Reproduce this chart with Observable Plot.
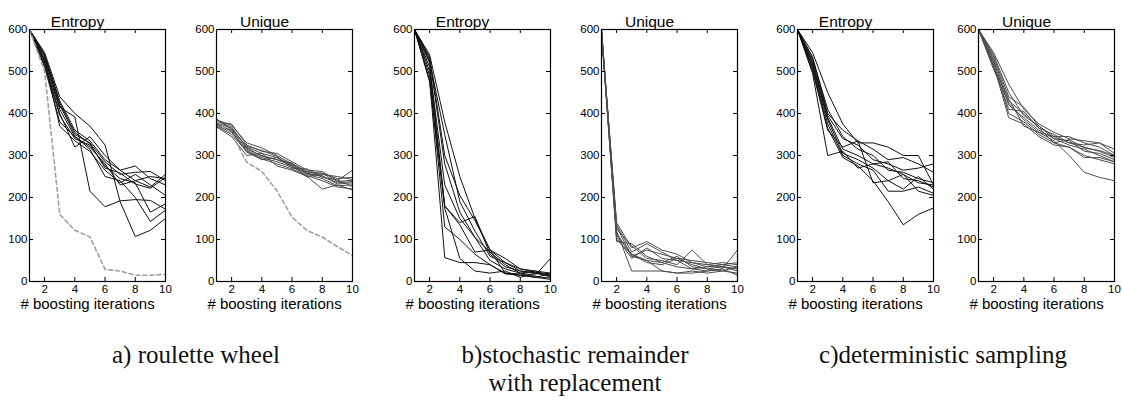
<!DOCTYPE html>
<html>
<head>
<meta charset="utf-8">
<script src="https://cdn.jsdelivr.net/npm/d3@7"></script>
<script src="https://cdn.jsdelivr.net/npm/@observablehq/plot@0.6"></script>
<style>
  html, body { margin: 0; padding: 0; background: #fff; }
  #wrap { position: relative; width: 1122px; height: 400px; background: #fff; overflow: hidden; }
  #wrap svg { position: absolute; top: 0; }
  .cap { position: absolute; font-family: "Liberation Serif", "Times New Roman", serif; font-size: 25px; line-height: 28px; color: #111; text-align: center; white-space: nowrap; transform: translateX(-50%); }
</style>
</head>
<body>
<div id="wrap"></div>
<script>
// ---------- data ----------
const iterations = [1, 2, 3, 4, 5, 6, 7, 8, 9, 10];
const xTicks = [2, 4, 6, 8, 10];
const yTicks = [0, 100, 200, 300, 400, 500, 600];
const panelTitles = ["Entropy", "Unique", "Entropy", "Unique", "Entropy", "Unique"];
const xLabel = "# boosting iterations";
const captions = ["a) roulette wheel", "b)stochastic remainder\nwith replacement", "c)deterministic sampling"];

// a) roulette wheel
const entropyRoulette = [
  [600, 545, 440, 400, 370, 325, 190, 107, 122, 150],
  [600, 535, 415, 392, 215, 178, 192, 195, 193, 172],
  [600, 540, 430, 360, 335, 290, 265, 275, 245, 230],
  [600, 530, 420, 350, 330, 285, 255, 260, 262, 240],
  [600, 525, 410, 345, 320, 280, 230, 240, 225, 255],
  [600, 520, 400, 320, 345, 300, 265, 240, 250, 245],
  [600, 515, 395, 340, 325, 275, 245, 235, 165, 185],
  [600, 510, 380, 345, 315, 250, 240, 200, 143, 170],
  [600, 525, 370, 335, 310, 265, 235, 255, 230, 205],
  [600, 540, 425, 355, 328, 270, 258, 232, 222, 248]
];
const entropyRouletteDashed = [600, 500, 160, 122, 106, 29, 25, 15, 15, 17];
const uniqueRoulette = [
  [385, 372, 330, 318, 300, 280, 262, 258, 245, 248],
  [380, 375, 325, 310, 305, 285, 265, 262, 240, 265],
  [378, 365, 320, 305, 295, 278, 260, 255, 250, 243],
  [375, 360, 315, 300, 290, 275, 258, 250, 235, 238],
  [372, 355, 312, 295, 285, 272, 255, 245, 228, 230],
  [370, 350, 310, 292, 280, 268, 252, 240, 225, 220],
  [368, 345, 300, 305, 275, 265, 250, 220, 230, 218],
  [382, 368, 318, 298, 290, 282, 256, 252, 232, 235],
  [387, 362, 322, 312, 298, 270, 268, 248, 242, 226],
  [376, 358, 308, 290, 295, 276, 249, 257, 238, 241]
];
const uniqueRouletteDashed = [382, 352, 284, 262, 216, 153, 121, 106, 83, 62];

// b) stochastic remainder with replacement
const entropyRemainder = [
  [600, 540, 380, 250, 150, 75, 55, 30, 25, 20],
  [600, 535, 300, 205, 145, 75, 45, 25, 20, 15],
  [600, 530, 280, 165, 105, 70, 40, 20, 15, 55],
  [600, 520, 180, 140, 155, 65, 35, 25, 20, 12],
  [600, 510, 230, 150, 105, 50, 30, 20, 25, 10],
  [600, 500, 180, 135, 70, 75, 20, 15, 10, 18],
  [600, 490, 130, 100, 65, 40, 20, 18, 12, 8],
  [600, 480, 57, 45, 45, 40, 18, 15, 10, 5],
  [600, 475, 175, 55, 25, 20, 25, 10, 20, 15],
  [600, 525, 350, 190, 120, 60, 45, 30, 22, 18]
];
const uniqueRemainder = [
  [590, 140, 80, 95, 75, 65, 45, 40, 45, 40],
  [595, 130, 60, 75, 65, 55, 50, 45, 40, 35],
  [600, 125, 85, 55, 50, 40, 75, 40, 35, 30],
  [600, 120, 25, 25, 25, 20, 20, 25, 30, 75],
  [598, 115, 60, 50, 45, 35, 30, 35, 40, 45],
  [592, 110, 65, 45, 40, 55, 40, 30, 35, 25],
  [596, 105, 55, 80, 55, 50, 30, 25, 30, 15],
  [600, 100, 65, 50, 25, 20, 25, 20, 25, 35],
  [594, 95, 90, 60, 45, 60, 35, 30, 25, 20],
  [597, 135, 70, 90, 70, 50, 45, 35, 35, 30]
];

// c) deterministic sampling
const entropyDeterministic = [
  [600, 545, 450, 375, 330, 330, 320, 300, 300, 230],
  [600, 535, 400, 360, 335, 315, 290, 295, 280, 260],
  [600, 525, 395, 340, 325, 290, 280, 265, 270, 280],
  [600, 520, 390, 315, 300, 280, 270, 255, 235, 230],
  [600, 515, 385, 305, 290, 270, 240, 220, 250, 220],
  [600, 510, 375, 300, 280, 265, 215, 215, 225, 210],
  [600, 505, 365, 295, 275, 240, 190, 135, 160, 175],
  [600, 500, 360, 320, 335, 235, 240, 255, 215, 205],
  [600, 495, 300, 310, 270, 280, 285, 245, 240, 225],
  [600, 530, 410, 345, 315, 300, 265, 260, 245, 235]
];
const uniqueDeterministic = [
  [600, 545, 470, 410, 375, 355, 340, 335, 330, 315],
  [600, 535, 440, 415, 370, 345, 345, 330, 320, 300],
  [600, 530, 430, 400, 365, 350, 330, 320, 310, 295],
  [600, 525, 420, 390, 360, 340, 325, 315, 300, 285],
  [600, 520, 400, 380, 350, 330, 320, 300, 290, 280],
  [600, 515, 390, 375, 345, 325, 320, 295, 295, 285],
  [600, 510, 435, 370, 355, 335, 300, 260, 248, 240],
  [600, 505, 425, 385, 355, 345, 330, 325, 330, 305],
  [600, 540, 450, 395, 370, 340, 335, 310, 305, 290],
  [600, 512, 410, 405, 365, 330, 338, 318, 312, 300]
];

// ---------- layout ----------
const frameLefts = [29, 216, 414, 601, 797, 978];
const frameW = 136, frameTop = 29, frameH = 252;
const mL = 30, mR = 6, mB = 40;
const captionCenters = [196, 575, 943];
const captionTop = 341;

const panels = [
  {series: entropyRoulette, dashed: entropyRouletteDashed, color: "#111"},
  {series: uniqueRoulette, dashed: uniqueRouletteDashed, color: "#4d4d4d"},
  {series: entropyRemainder, dashed: null, color: "#111"},
  {series: uniqueRemainder, dashed: null, color: "#4d4d4d"},
  {series: entropyDeterministic, dashed: null, color: "#111"},
  {series: uniqueDeterministic, dashed: null, color: "#4d4d4d"}
];

function toRows(series) {
  const rows = [];
  series.forEach((vals, s) => vals.forEach((v, j) => rows.push({x: iterations[j], y: v, s})));
  return rows;
}

const wrap = document.getElementById("wrap");

panels.forEach((p, i) => {
  const marks = [
    Plot.line(toRows(p.series), {x: "x", y: "y", z: "s", stroke: p.color, strokeWidth: 1}),
  ];
  if (p.dashed) {
    marks.push(Plot.line(p.dashed.map((v, j) => ({x: iterations[j], y: v})),
      {x: "x", y: "y", stroke: "#a0a0a0", strokeWidth: 1.6, strokeDasharray: "4,3"}));
  }
  marks.push(
    Plot.tickY(yTicks, {y: d => d, insetRight: frameW - 4, stroke: "#000"}),
    Plot.tickY(yTicks, {y: d => d, insetLeft: frameW - 4, stroke: "#000"}),
    Plot.tickX(xTicks, {x: d => d, insetTop: frameH - 4, stroke: "#000"}),
    Plot.tickX(xTicks, {x: d => d, insetBottom: frameH - 4, stroke: "#000"}),
    Plot.frame({stroke: "#000", strokeWidth: 1.2}),
    Plot.axisY({ticks: yTicks, tickSize: 0, tickPadding: 2, label: null, fontSize: 11.5}),
    Plot.axisX({ticks: xTicks, tickSize: 0, tickPadding: 3, label: null, fontSize: 11.5}),
    Plot.text([panelTitles[i]], {text: d => d, frameAnchor: "top", dy: -14, dx: -20, fontSize: 15.5, fill: "#000"}),
    Plot.text([xLabel], {text: d => d, frameAnchor: "bottom", dy: 27, dx: -10, fontSize: 15, fill: "#000"})
  );
  const svg = Plot.plot({
    width: mL + frameW + mR,
    height: frameTop + frameH + mB,
    marginLeft: mL, marginRight: mR, marginTop: frameTop, marginBottom: mB,
    x: {domain: [1, 10]},
    y: {domain: [0, 600]},
    style: {fontFamily: "'Liberation Sans', Arial, sans-serif", fontSize: "11.5px", color: "#000", background: "transparent", overflow: "visible"},
    marks
  });
  svg.style.left = (frameLefts[i] - mL) + "px";
  wrap.appendChild(svg);
});

captions.forEach((c, k) => {
  const d = document.createElement("div");
  d.className = "cap";
  d.style.left = captionCenters[k] + "px";
  d.style.top = captionTop + "px";
  d.innerHTML = c.split("\n").join("<br>");
  wrap.appendChild(d);
});
</script>
</body>
</html>
